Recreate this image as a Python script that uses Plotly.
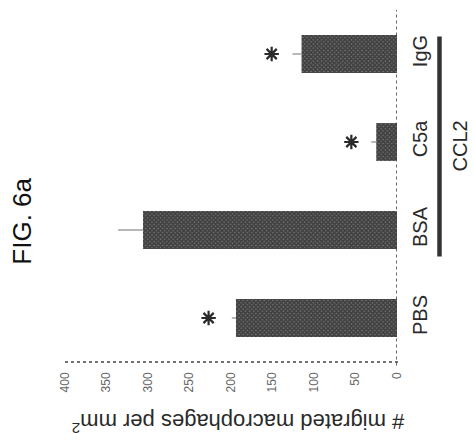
import plotly.graph_objects as go

categories = ["PBS", "BSA", "C5a", "IgG"]
values = [194, 306, 25, 115]
errors = [5, 30, 6, 11]
star_values = [227, None, 55, 151]
star_categories = ["PBS", "BSA", "C5a", "IgG"]
tick_values = [0, 50, 100, 150, 200, 250, 300, 350, 400]
tick_labels = ["0", "50", "100", "150", "200", "250", "300", "350", "400"]
group_label = "CCL2"
group_members = ["BSA", "C5a", "IgG"]
axis_title = "# migrated macrophages per mm<sup>2</sup>"
fig_title = "FIG. 6a"

FONT = "Liberation Sans, Arial, sans-serif"
INK = "#2a2a2a"

fig = go.Figure()
fig.add_trace(go.Bar(
    x=values, y=categories, orientation="h",
    marker=dict(color="#1a1a1a",
                pattern=dict(shape="x", fgcolor="#0a0a0a", bgcolor="#777777",
                             size=3, solidity=0.8),
                line=dict(width=0)),
    error_x=dict(type="data", array=errors, arrayminus=[0] * len(errors),
                 symmetric=False, width=0, thickness=1.2, color="#888888"),
    showlegend=False,
))
sx = [v for v in star_values if v is not None]
sy = [c for v, c in zip(star_values, star_categories) if v is not None]
fig.add_trace(go.Scatter(
    x=sx, y=sy, mode="markers",
    marker=dict(symbol="asterisk-open", size=12, color=INK,
                line=dict(width=2.2, color=INK)),
    showlegend=False,
))

# dotted axis lines
fig.add_shape(type="line", xref="x", yref="paper", x0=0, x1=0, y0=-0.01, y1=1,
              line=dict(color="#444", width=1.6, dash="dot"))
fig.add_shape(type="line", xref="paper", yref="paper", x0=0, x1=1.01, y0=0, y1=0,
              line=dict(color="#444", width=1.6, dash="dot"))

# CCL2 bracket line
gi = [categories.index(c) for c in group_members]
fig.add_shape(type="line", xref="paper", yref="y", x0=1.128, x1=1.128,
              y0=min(gi) - 0.3, y1=max(gi) + 0.2,
              line=dict(color="#333", width=4.5))
fig.add_annotation(text=group_label, xref="paper", yref="y", x=1.19, y=1.95,
                   xanchor="center", yanchor="middle",
                   textangle=-90, showarrow=False,
                   font=dict(family=FONT, size=20, color=INK))

fig.add_annotation(text=fig_title, xref="paper", yref="paper", x=-0.128, y=0.40,
                   xanchor="center", yanchor="middle",
                   textangle=-90, showarrow=False,
                   font=dict(family=FONT, size=26, color="#111"))
fig.add_annotation(text=axis_title, xref="paper", yref="paper", x=0.52, y=-0.175,
                   xanchor="center", yanchor="middle",
                   textangle=180, showarrow=False,
                   font=dict(family=FONT, size=22, color=INK))

fig.update_layout(
    width=474, height=444,
    margin=dict(l=65, r=76.5, t=10, b=82),
    paper_bgcolor="white", plot_bgcolor="white",
    bargap=0.57,
    xaxis=dict(range=[400, 0], tickvals=tick_values, ticktext=tick_labels,
               tickangle=-90, showgrid=False, zeroline=False, showline=False,
               ticks="", ticklabelstandoff=7,
               tickfont=dict(family=FONT, size=12, color="#666")),
    yaxis=dict(categoryorder="array", categoryarray=categories,
               range=[-0.5, 3.5], side="right", tickangle=-90,
               showgrid=False, zeroline=False, showline=False, ticks="",
               ticklabelstandoff=9,
               tickfont=dict(family=FONT, size=20, color=INK)),
)

fig.write_html("out.html", config={"displayModeBar": False},
               post_script="document.body.style.margin='0';")
